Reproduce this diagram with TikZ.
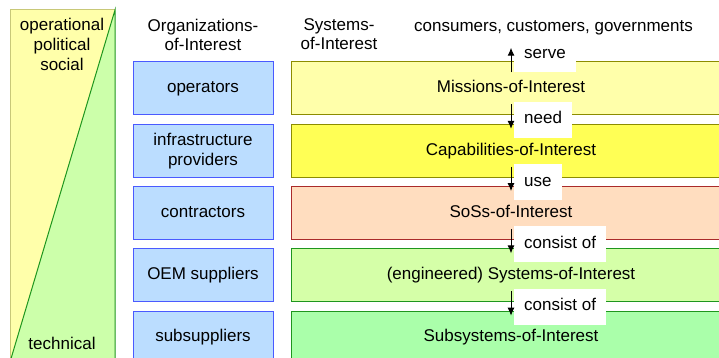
\documentclass[tikz,border=0pt]{standalone}
\usepackage{fontspec}
\setmainfont{Liberation Sans}
\usetikzlibrary{positioning,arrows.meta,calc}

\definecolor{sidetop}{HTML}{FFFFAA}
\definecolor{sidebottom}{HTML}{CCFFAA}
\definecolor{sideline}{HTML}{C8C878}
\definecolor{greenline}{HTML}{1E961E}
\definecolor{orgfill}{HTML}{BBDDFF}
\definecolor{orgline}{HTML}{4A5AFF}
\definecolor{missfill}{HTML}{FFFFAA}
\definecolor{capfill}{HTML}{FFFF55}
\definecolor{oliveline}{HTML}{8C8C00}
\definecolor{sosfill}{HTML}{FFDDBF}
\definecolor{sosline}{HTML}{AA2A2A}
\definecolor{sysfill}{HTML}{D5FFA8}
\definecolor{subfill}{HTML}{AAFFAA}

\begin{document}
\begin{tikzpicture}[x=1pt, y=1pt,
  every node/.style={font=\fontsize{17}{20}\selectfont},
  org/.style={draw=orgline, fill=orgfill, line width=1pt, align=center,
    minimum width=140pt, minimum height=53pt, inner sep=0pt},
  soi/.style={line width=1pt, minimum width=440pt, minimum height=53pt,
    inner sep=0pt, text height=12pt, text depth=3.5pt},
  tag/.style={fill=white, anchor=west, inner xsep=10pt, inner ysep=0pt,
    minimum height=36pt, text height=12pt, text depth=3.5pt},
  flow/.style={-{Latex[length=8pt,width=7pt]}, line width=1pt}]
\useasboundingbox (0,0) rectangle (719,-358);
\clip (0,0) rectangle (719,-358);

% side bar: social vs. technical
\fill[sidetop] (10,-10) -- (115,-10) -- (10,-362) -- cycle;
\fill[sidebottom] (115,-10) -- (115,-362) -- (10,-362) -- cycle;
\draw[sideline, line width=1pt] (115,-10) -- (10,-10) -- (10,-362);
\draw[greenline, line width=1pt] (10,-362) -- (115,-10) -- (115,-362);
\node[align=center, anchor=north, inner sep=0pt] (social) at (62,-17.5)
  {operational\\political\\social};
\node[anchor=base, inner sep=0pt] (technical) at (62,-349) {technical};

% headers
\node[align=center, anchor=north, inner sep=0pt, font=\fontsize{17}{19}\selectfont]
  (orghead) at (203,-18.5) {Organizations-\\of-Interest};
\node[align=center, anchor=north, inner sep=0pt, font=\fontsize{17}{19}\selectfont]
  (syshead) at (339,-18.5) {Systems-\\of-Interest};
\node[anchor=base, inner sep=0pt] (users) at (553.5,-32)
  {consumers, customers, governments};

% organizations
\node[org, text height=12pt, text depth=3.5pt] (operators) at (203,-88.5) {operators};
\node[org, below=8.3pt of operators] (infra) {infrastructure\\providers};
\node[org, below=8.3pt of infra, text height=12pt, text depth=3.5pt] (contractors) {contractors};
\node[org, below=8.3pt of contractors, text height=12pt, text depth=3.5pt] (oem) {OEM suppliers};
\node[org, below=8.3pt of oem, text height=12pt, text depth=3.5pt] (subsupp) {subsuppliers};

% systems-of-interest layers
\node[soi, draw=oliveline, fill=missfill, right=17pt of operators] (missions) {Missions-of-Interest};
\node[soi, draw=oliveline, fill=capfill, below=8.3pt of missions] (capab) {Capabilities-of-Interest};
\node[soi, draw=sosline, fill=sosfill, below=8.3pt of capab] (soss) {SoSs-of-Interest};
\node[soi, draw=greenline, fill=sysfill, below=8.3pt of soss] (systems) {(engineered) Systems-of-Interest};
\node[soi, draw=greenline, fill=subfill, below=8.3pt of systems] (subsys) {Subsystems-of-Interest};

% relation labels
\node[tag] (serve) at ($(missions.north)+(3,7)$) {serve};
\node[tag] (need) at ($(missions.south)!.5!(capab.north)+(3,0)$) {need};
\node[tag] (use) at ($(capab.south)!.5!(soss.north)+(3,0)$) {use};
\node[tag] (consist1) at ($(soss.south)!.5!(systems.north)+(3,0)$) {consist of};
\node[tag] (consist2) at ($(systems.south)!.5!(subsys.north)+(3,0)$) {consist of};

% relation arrows
\draw[flow, shorten <=-11pt, shorten >=12pt] (missions.north) -- (missions.north |- users.south);
\draw[flow, shorten <=-11pt, shorten >=-5pt] (missions.south) -- (capab.north);
\draw[flow, shorten <=-11pt, shorten >=-5pt] (capab.south) -- (soss.north);
\draw[flow, shorten <=-11pt, shorten >=-5pt] (soss.south) -- (systems.north);
\draw[flow, shorten <=-11pt, shorten >=-5pt] (systems.south) -- (subsys.north);
\end{tikzpicture}
\end{document}
